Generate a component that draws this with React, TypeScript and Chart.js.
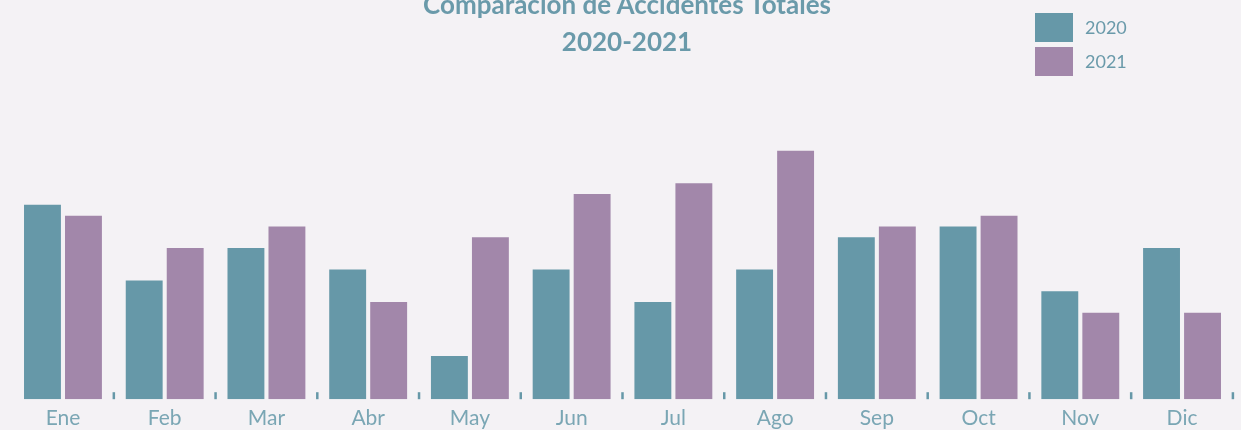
import React, { useEffect, useRef } from "react";
import { Chart, registerables } from "chart.js";

Chart.register(...registerables);

const months = ["Ene", "Feb", "Mar", "Abr", "May", "Jun", "Jul", "Ago", "Sep", "Oct", "Nov", "Dic"];
const values2020 = [18, 11, 14, 12, 4, 12, 9, 12, 15, 16, 10, 14];
const values2021 = [17, 14, 16, 9, 15, 19, 20, 23, 16, 17, 8, 8];
const seriesLabels = ["2020", "2021"];
const titleLines = ["Comparación de Accidentes Totales", "2020-2021"];

const TEAL = "#6698a8";
const PURPLE = "#a287aa";
const BG = "#f4f2f5";
const TEXT = "#6a9aaa";
const FONT = "Lato, 'Open Sans', sans-serif";

const tickMarks = {
  id: "tickMarks",
  afterDatasetsDraw(chart: any) {
    const x = chart.scales.x;
    const area = chart.chartArea;
    const ctx = chart.ctx;
    const n = chart.data.labels.length;
    const w = n > 1 ? x.getPixelForValue(1) - x.getPixelForValue(0) : area.right - area.left;
    ctx.save();
    ctx.strokeStyle = TEAL;
    ctx.lineWidth = 2.5;
    for (let i = 0; i < n; i++) {
      const px = x.getPixelForValue(i) + w / 2;
      ctx.beginPath();
      ctx.moveTo(px, area.bottom - 7);
      ctx.lineTo(px, area.bottom);
      ctx.stroke();
    }
    ctx.restore();
  },
};

export default function App() {
  const ref = useRef<HTMLCanvasElement | null>(null);

  useEffect(() => {
    document.body.style.margin = "0";
    document.body.style.background = BG;
    if (!ref.current) return;
    const chart = new Chart(ref.current, {
      type: "bar",
      data: {
        labels: months,
        datasets: [
          { label: seriesLabels[0], data: values2020, backgroundColor: TEAL, borderWidth: 0 },
          { label: seriesLabels[1], data: values2021, backgroundColor: PURPLE, borderWidth: 0 },
        ],
      },
      options: {
        animation: false,
        responsive: false,
        maintainAspectRatio: false,
        devicePixelRatio: 1,
        layout: { padding: { top: 129.25, left: 12.1, right: 8.1, bottom: 0 } },
        plugins: {
          legend: { display: false },
          title: { display: false },
          tooltip: { enabled: false },
        },
        datasets: { bar: { categoryPercentage: 0.806, barPercentage: 0.9 } },
        scales: {
          x: {
            grid: { display: false, drawTicks: false },
            border: { display: false },
            ticks: {
              color: "#7aa6b4",
              padding: 6.8,
              font: { family: FONT, size: 21, lineHeight: 1.2 },
            },
          },
          y: { display: false, min: 0, max: 25 },
        },
      },
      plugins: [tickMarks],
    });
    return () => chart.destroy();
  }, []);

  return (
    <div style={{ position: "fixed", left: 0, top: 0, width: 1241, height: 430, background: BG, overflow: "hidden" }}>
      <canvas ref={ref} width={1241} height={438} style={{ position: "absolute", left: 0, top: 0, width: 1241, height: 438 }} />
      {titleLines.map((t, i) => (
        <div
          key={i}
          style={{
            position: "absolute",
            left: 0,
            width: 1254,
            top: -14 + i * 37,
            textAlign: "center",
            fontFamily: FONT,
            fontWeight: 700,
            fontSize: 26,
            lineHeight: "37px",
            color: TEXT,
            whiteSpace: "nowrap",
          }}
        >
          {t}
        </div>
      ))}
      {seriesLabels.map((s, i) => (
        <div key={s} style={{ position: "absolute", left: 1035, top: 13 + i * 34, height: 29, display: "flex", alignItems: "center" }}>
          <div style={{ width: 38, height: 29, background: i === 0 ? TEAL : PURPLE }} />
          <div style={{ marginLeft: 12, fontFamily: FONT, fontSize: 18, lineHeight: "29px", color: TEXT }}>{s}</div>
        </div>
      ))}
    </div>
  );
}
